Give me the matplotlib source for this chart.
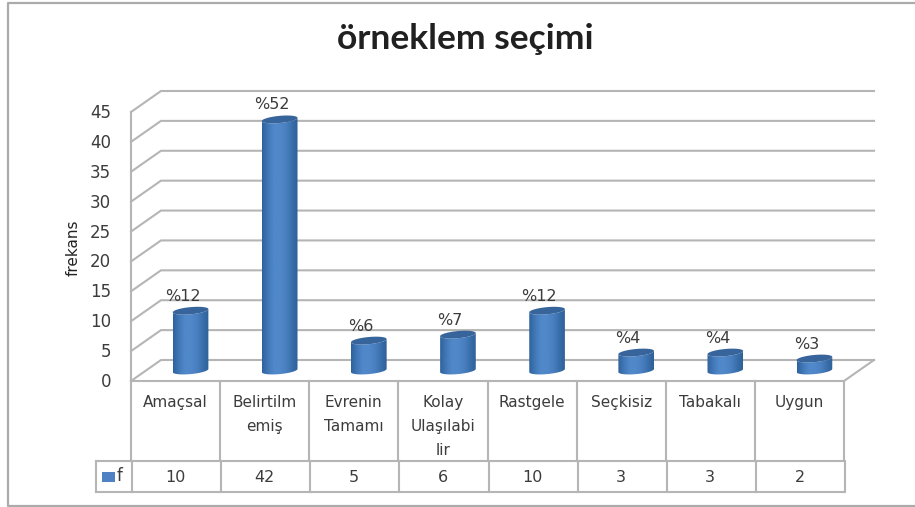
import numpy as np
import matplotlib
matplotlib.use('Agg')
from matplotlib import pyplot as plt
from matplotlib.colors import LinearSegmentedColormap
from matplotlib.patches import Polygon, Rectangle

plt.rcParams['font.family'] = ['DejaVu Sans']

# chart values
categories = ['Amaçsal', 'Belirtilm\nemiş', 'Evrenin\nTamamı', 'Kolay\nUlaşılabi\nlir',
              'Rastgele', 'Seçkisiz', 'Tabakalı', 'Uygun']
freq = [10, 42, 5, 6, 10, 3, 3, 2]
percents = ['%12', '%52', '%6', '%7', '%12', '%4', '%4', '%3']
yticks = [0, 5, 10, 15, 20, 25, 30, 35, 40, 45]

W, H = 915, 507
GRID = '#b5b5b5'
TXT = '#3c3c3c'

fig = plt.figure(figsize=(W / 100, H / 100), dpi=100)
fig.patch.set_facecolor('white')

# front plane of the 3d box in pixels
left, right, bottom, top = 131, 844, 381, 112
ax = fig.add_axes([left / W, 1 - bottom / H, (right - left) / W, (bottom - top) / H])
ax.axis('off')

# one pixel in data units
px = len(categories) / (right - left)
py = 45 / (bottom - top)
depth_x = 30 * px
depth_y = 21 * py

# walls
for v in yticks:
    ax.plot([0, depth_x, 8 + depth_x], [v, v + depth_y, v + depth_y], color=GRID, lw=1.5,
            clip_on=False, zorder=1, solid_joinstyle='miter')
ax.plot([0, 0], [0, 45], color=GRID, lw=1.5, clip_on=False, zorder=1)
ax.plot([8, 8 + depth_x], [0, depth_y], color=GRID, lw=1.5, clip_on=False, zorder=1)

# cylinders
cmap = LinearSegmentedColormap.from_list('cyl', ['#2f639c', '#4278b8', '#5088ca', '#5088ca', '#4a80c0', '#3a70ad', '#2f6098'])
grad = np.linspace(0, 1, 64).reshape(1, -1)
half_w = 0.2
ell_h = 3.6 * py
tilt = 1.6 * py
t = np.linspace(0, 2 * np.pi, 80)
for i, v in enumerate(freq):
    cx = i + 0.5 + depth_x / 2
    base = depth_y / 2
    ex = cx + half_w * np.cos(t)
    ey = ell_h * np.sin(t) + tilt * np.cos(t)
    # lower half of the base and upper half of the top make the outline
    low = np.sin(t) <= 0
    order = np.argsort(ex[low])
    body_x = np.r_[ex[low][order], ex[low][order][::-1]]
    body_y = np.r_[base + ey[low][order], base + v + ey[low][order][::-1]]
    clip = Polygon(np.c_[body_x, body_y], closed=True, transform=ax.transData)
    im = ax.imshow(grad, cmap=cmap, aspect='auto', zorder=3,
                   extent=[cx - half_w, cx + half_w, base - 2, base + v + 2])
    im.set_clip_path(clip)
    ax.fill(ex, base + v + ey, color='#37659b', lw=0, zorder=4, clip_on=False)
    ax.text(cx - 8 * px, base + v + 10 * py, percents[i], ha='center', va='baseline',
            fontsize=11.5, color=TXT, zorder=5)

ax.set_xlim(0, 8)
ax.set_ylim(0, 45)

# y tick labels and axis title
for v in yticks:
    ax.text(-20 * px, v - 6 * py, str(v), ha='right', va='baseline', fontsize=12, color=TXT, clip_on=False)
ax.text(-58 * px, 22.3, 'frekans', rotation=90, ha='center', va='center', fontsize=11,
        color='#222222')

# data table below the chart
row1 = -80 * py
row2 = -111 * py
row_left = -35 * px
ax.plot([0, 8], [0, 0], color=GRID, lw=1.5, clip_on=False, zorder=2)
ax.plot([row_left, 8], [row1, row1], color=GRID, lw=1.5, clip_on=False)
ax.plot([row_left, 8], [row2, row2], color=GRID, lw=1.5, clip_on=False)
ax.plot([row_left, row_left], [row1, row2], color=GRID, lw=1.5, clip_on=False)
for i in range(len(categories) + 1):
    ax.plot([i, i], [0, row1], color=GRID, lw=1.5, clip_on=False)
    ax.plot([i + 1 * px, i + 1 * px], [row1, row2], color=GRID, lw=1.5, clip_on=False)

for i, name in enumerate(categories):
    for j, line in enumerate(name.split('\n')):
        ax.text(i + 0.5, (-26 - 24 * j) * py, line, ha='center', va='baseline', fontsize=11, color=TXT)
    ax.text(i + 0.5, -101 * py, str(freq[i]), ha='center', va='baseline', fontsize=11.5, color=TXT)

ax.add_patch(Rectangle((-29 * px, -101 * py), 13 * px, 10 * py, color='#4f81c4', lw=0, clip_on=False))
ax.text(-11 * px, -100 * py, 'f', ha='center', va='baseline', fontsize=12, color=TXT)

# chart title
fig.text(465.5 / W, 1 - 39 / H, 'örneklem seçimi', ha='center', va='center', fontsize=25.5,
         family='Lato', fontweight='bold', color='#202020')

# outer frame, open on the right
frame_x = [W / W, 7.5 / W, 7.5 / W, W / W]
frame_y = [1 - 2.5 / H, 1 - 2.5 / H, 1 - 505.5 / H, 1 - 505.5 / H]
fig.add_artist(plt.Line2D(frame_x, frame_y, color='#ababab', lw=1.6))

fig.savefig('out.png', dpi=100)
